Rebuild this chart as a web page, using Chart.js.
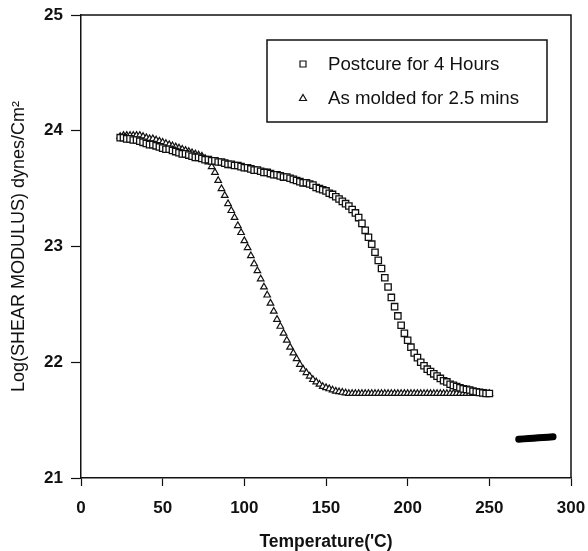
<!DOCTYPE html>
<html>
<head>
<meta charset="utf-8">
<script src="https://cdn.jsdelivr.net/npm/chart.js@4.4.1/dist/chart.umd.min.js"></script>
<style>
  html, body { margin: 0; padding: 0; background: #fff; }
  canvas { display: block; }
</style>
</head>
<body>
<canvas id="myChart" width="588" height="551"></canvas>
<script>
// temperature ('C) of each reading, shared by both runs
const temps = [
  24, 26, 28, 30, 32, 34, 36, 38, 40, 42, 44, 46, 48, 50, 52, 54, 56, 58, 60, 62,
  64, 66, 68, 70, 72, 74, 76, 78, 80, 82, 84, 86, 88, 90, 92, 94, 96, 98, 100, 102,
  104, 106, 108, 110, 112, 114, 116, 118, 120, 122, 124, 126, 128, 130, 132, 134, 136, 138, 140, 142,
  144, 146, 148, 150, 152, 154, 156, 158, 160, 162, 164, 166, 168, 170, 172, 174, 176, 178, 180, 182,
  184, 186, 188, 190, 192, 194, 196, 198, 200, 202, 204, 206, 208, 210, 212, 214, 216, 218, 220, 222,
  224, 226, 228, 230, 232, 234, 236, 238, 240, 242, 244, 246, 248, 250
];

const postcure = [
  23.94, 23.94, 23.93, 23.93, 23.92, 23.92, 23.91, 23.90, 23.89, 23.88, 23.88, 23.87, 23.86, 23.85, 23.84, 23.84, 23.83, 23.82, 23.81, 23.80,
  23.80, 23.79, 23.78, 23.77, 23.77, 23.76, 23.75, 23.75, 23.74, 23.74, 23.73, 23.73, 23.72, 23.71, 23.71, 23.70, 23.70, 23.69, 23.68, 23.68,
  23.67, 23.66, 23.66, 23.65, 23.64, 23.64, 23.63, 23.62, 23.62, 23.61, 23.60, 23.60, 23.59, 23.58, 23.57, 23.56, 23.55, 23.55, 23.54, 23.53,
  23.51, 23.50, 23.49, 23.48, 23.46, 23.45, 23.43, 23.41, 23.39, 23.37, 23.35, 23.32, 23.29, 23.25, 23.20, 23.14, 23.08, 23.02, 22.95, 22.88,
  22.81, 22.73, 22.65, 22.56, 22.48, 22.40, 22.32, 22.25, 22.19, 22.13, 22.08, 22.04, 22.00, 21.97, 21.94, 21.92, 21.90, 21.88, 21.86, 21.84,
  21.83, 21.81, 21.80, 21.79, 21.78, 21.77, 21.765, 21.76, 21.75, 21.745, 21.74, 21.735, 21.73, 21.73
];

const asMolded = [
  23.95, 23.96, 23.96, 23.96, 23.96, 23.96, 23.96, 23.95, 23.94, 23.93, 23.93, 23.92, 23.91, 23.90, 23.89, 23.88, 23.87, 23.86, 23.85, 23.84,
  23.83, 23.82, 23.81, 23.80, 23.79, 23.78, 23.76, 23.73, 23.69, 23.64, 23.57, 23.50, 23.44, 23.37, 23.31, 23.25, 23.18, 23.12, 23.05, 22.99,
  22.92, 22.85, 22.79, 22.72, 22.65, 22.58, 22.51, 22.44, 22.37, 22.31, 22.25, 22.19, 22.13, 22.08, 22.03, 21.98, 21.94, 21.91, 21.88, 21.85,
  21.83, 21.81, 21.79, 21.78, 21.77, 21.76, 21.75, 21.745, 21.74, 21.735, 21.73, 21.73, 21.73, 21.73, 21.73, 21.73, 21.73, 21.73, 21.73, 21.73,
  21.73, 21.73, 21.73, 21.73, 21.73, 21.73, 21.73, 21.73, 21.73, 21.73, 21.73, 21.73, 21.73, 21.73, 21.73, 21.73, 21.73, 21.73, 21.73, 21.73,
  21.73, 21.73, 21.73, 21.73, 21.73, 21.73, 21.73, 21.73, 21.73, 21.73, 21.73, 21.73, 21.73, 21.73
];

// the short black streak at the lower right
const streakTemps = [268, 271, 274, 277, 280, 283, 286, 289];
const streakValues = [21.335, 21.338, 21.341, 21.344, 21.347, 21.350, 21.353, 21.356];

const xTicks = [0, 50, 100, 150, 200, 250, 300];
const yTicks = [21, 22, 23, 24, 25];

const FONT = '"Liberation Sans", Arial, Helvetica, sans-serif';

function pts(xs, ys) {
  return xs.map((x, i) => ({ x: x, y: ys[i] }));
}

// closes the frame on top and right
const frame = {
  id: 'frame',
  afterDatasetsDraw(chart) {
    const { ctx, chartArea: a } = chart;
    ctx.save();
    ctx.strokeStyle = '#111';
    ctx.lineWidth = 1.5;
    ctx.beginPath();
    ctx.moveTo(a.left, a.top);
    ctx.lineTo(a.right, a.top);
    ctx.lineTo(a.right, a.bottom);
    ctx.stroke();
    ctx.restore();
  }
};

// boxed legend inside the plot
const boxLegend = {
  id: 'boxLegend',
  afterDraw(chart) {
    const ctx = chart.ctx;
    ctx.save();
    ctx.strokeStyle = '#111';
    ctx.lineWidth = 1.5;
    ctx.fillStyle = '#fff';
    ctx.fillRect(267, 40, 280, 82);
    ctx.strokeRect(267, 40, 280, 82);

    const rows = [64, 98];
    chart.data.datasets.slice(0, 2).forEach((ds, i) => {
      const y = rows[i];
      ctx.lineWidth = 1.2;
      ctx.strokeStyle = '#111';
      ctx.beginPath();
      if (ds.pointStyle === 'rect') {
        ctx.rect(300, y - 3, 6, 6);
      } else {
        ctx.moveTo(303, y - 3.5);
        ctx.lineTo(306.5, y + 2.5);
        ctx.lineTo(299.5, y + 2.5);
        ctx.closePath();
      }
      ctx.stroke();
      ctx.fillStyle = '#111';
      ctx.font = '18.7px ' + FONT;
      ctx.textAlign = 'left';
      ctx.textBaseline = 'middle';
      ctx.fillText(ds.label, 328, y + 1);
    });
    ctx.restore();
  }
};

const ctx = document.getElementById('myChart');

new Chart(ctx, {
  type: 'scatter',
  data: {
    datasets: [
      {
        label: 'Postcure for 4 Hours',
        data: pts(temps, postcure),
        pointStyle: 'rect',
        pointRadius: 4.5,
        borderWidth: 1.3,
        borderColor: '#111',
        backgroundColor: '#fff'
      },
      {
        label: 'As molded for 2.5 mins',
        data: pts(temps, asMolded),
        pointStyle: 'triangle',
        pointRadius: 3.8,
        borderWidth: 1.2,
        borderColor: '#111',
        backgroundColor: '#fff'
      },
      {
        label: '',
        data: pts(streakTemps, streakValues),
        showLine: true,
        pointRadius: 0,
        borderWidth: 7,
        borderCapStyle: 'round',
        borderColor: '#000',
        backgroundColor: '#000'
      }
    ]
  },
  options: {
    responsive: false,
    animation: false,
    layout: { padding: { top: 15, right: 17, left: 0, bottom: 0 } },
    plugins: {
      legend: { display: false },
      tooltip: { enabled: false }
    },
    scales: {
      x: {
        type: 'linear',
        min: 0,
        max: 300,
        afterFit: s => { s.height = 73; s.paddingLeft = 0; s.paddingRight = 0; },
        afterBuildTicks: s => { s.ticks = xTicks.map(v => ({ value: v })); },
        grid: { drawOnChartArea: false, color: '#111', tickLength: 8, tickWidth: 1.2 },
        border: { color: '#111', width: 1.5 },
        ticks: { color: '#111', padding: 12, maxRotation: 0, font: { family: FONT, size: 17, weight: 'bold' } },
        title: {
          display: true,
          text: "Temperature('C)",
          color: '#111',
          padding: { top: 0, bottom: 0 },
          font: { family: FONT, size: 17.5, weight: 'bold', lineHeight: 1 }
        }
      },
      y: {
        type: 'linear',
        min: 21,
        max: 25,
        afterFit: s => { s.width = 81; s.paddingTop = 0; s.paddingBottom = 0; },
        afterBuildTicks: s => { s.ticks = yTicks.map(v => ({ value: v })); },
        grid: { drawOnChartArea: false, color: '#111', tickLength: 10, tickWidth: 1.2 },
        border: { color: '#111', width: 1.5 },
        ticks: { color: '#111', padding: 8, font: { family: FONT, size: 17, weight: 'bold' } },
        title: {
          display: true,
          text: 'Log(SHEAR MODULUS) dynes/Cm²',
          color: '#111',
          padding: { top: 8, bottom: 0 },
          font: { family: FONT, size: 18, weight: 'normal', lineHeight: 1.2 }
        }
      }
    }
  },
  plugins: [frame, boxLegend]
});
</script>
</body>
</html>
